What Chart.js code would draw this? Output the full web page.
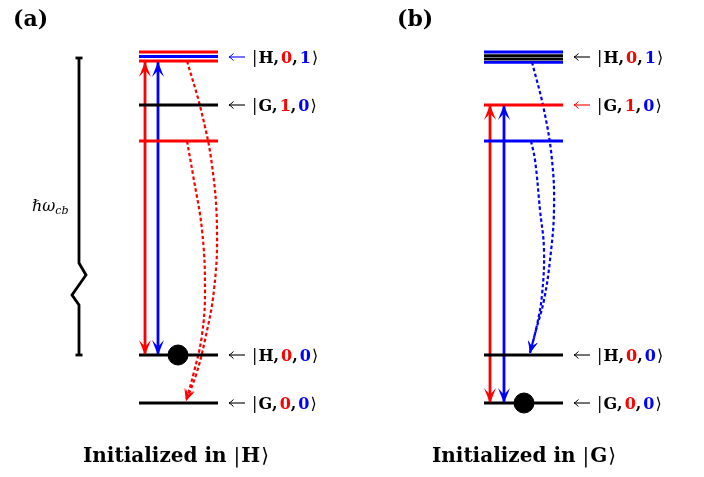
<!DOCTYPE html>
<html>
<head>
<meta charset="utf-8">
<script src="https://cdn.jsdelivr.net/npm/chart.js@4.4.0/dist/chart.umd.min.js"></script>
<style>
  html, body { margin: 0; padding: 0; background: #fff; }
  canvas { display: block; }
</style>
</head>
<body>
<canvas id="myChart" width="704" height="477"></canvas>
<script>
const RED = "#ff0000";
const BLUE = "#0000ff";
const BLACK = "#000000";

// energy levels (vertical position on the diagram) for each panel
const levelsA = [52, 56.5, 61, 105, 141, 355, 403];
const levelsB = [52, 55.7, 59, 62.3, 105, 141, 355, 403];
const levelColorsA = [RED, BLUE, RED, BLACK, RED, BLACK, BLACK];
const levelColorsB = [BLUE, BLACK, BLACK, BLUE, RED, BLUE, BLACK, BLACK];
const spanA = [139, 218];
const spanB = [484, 563];

// pump arrows: [x, top, bottom]
const pumpA = [[145, 62, 355], [158, 62, 355]];
const pumpB = [[490, 105, 403], [504, 105, 403]];
const pumpColors = [RED, BLUE];

// dashed decay paths
const decayA1 = [[187, 61], [201, 110], [212, 165], [217, 230], [214, 290], [205, 340], [196, 375], [186, 401]];
const decayA2 = [[187, 141], [193, 175], [202, 230], [205, 290], [202, 335], [194, 372], [186, 401]];
const decayB1 = [[532, 62], [544, 110], [552, 160], [554, 210], [550, 260], [544, 300], [536, 330], [530, 353]];
const decayB2 = [[531, 141], [535, 160], [540, 210], [544, 250], [542, 295], [537, 325], [530, 353]];

// occupied state
const dots = [[178, 355], [524, 403]];

// hbar omega_cb bracket
const bracket = [[79, 58], [79, 263], [86, 275], [72, 295], [79, 305], [79, 355]];

// state labels
const labelY = [57, 105, 355, 403];
const labelStates = [["H", "0", "1"], ["G", "1", "0"], ["H", "0", "0"], ["G", "0", "0"]];
const labelArrowColorsA = [BLUE, BLACK, BLACK, BLACK];
const labelArrowColorsB = [BLACK, RED, BLACK, BLACK];

const pts = arr => arr.map(p => ({ x: p[0], y: p[1] }));

function seg(points, color, width, extra) {
  return Object.assign({
    data: points,
    showLine: true,
    borderColor: color,
    backgroundColor: color,
    borderWidth: width,
    pointRadius: 0,
    pointHoverRadius: 0,
    fill: false,
    clip: false,
    tension: 0
  }, extra || {});
}

const datasets = [];

levelsA.forEach((y, i) => {
  datasets.push(seg(pts([[spanA[0], y], [spanA[1], y]]), levelColorsA[i], 2.8));
});
levelsB.forEach((y, i) => {
  datasets.push(seg(pts([[spanB[0], y], [spanB[1], y]]), levelColorsB[i], 2.8));
});

[pumpA, pumpB].forEach(pump => {
  pump.forEach((p, i) => {
    datasets.push(seg(pts([[p[0], p[1]], [p[0], p[2]]]), pumpColors[i], 2.8,
      { heads: "both", headLen: 15, headW: 6 }));
  });
});

[[decayA1, RED], [decayA2, RED], [decayB1, BLUE], [decayB2, BLUE]].forEach(d => {
  datasets.push(seg(pts(d[0]), d[1], 2.2, {
    tension: 0.4, borderDash: [3.5, 2.5], heads: "end", headLen: 12, headW: 5
  }));
});

datasets.push(seg(pts(bracket), BLACK, 2.8, { borderJoinStyle: "miter" }));
datasets.push(seg(pts([[75.5, 58], [82.5, 58]]), BLACK, 2.8));
datasets.push(seg(pts([[75.5, 355], [82.5, 355]]), BLACK, 2.8));

labelY.forEach((y, i) => {
  datasets.push(seg(pts([[245, y], [229, y]]), labelArrowColorsA[i], 1.1, { heads: "hook" }));
  datasets.push(seg(pts([[590, y], [574, y]]), labelArrowColorsB[i], 1.1, { heads: "hook" }));
});

datasets.push({
  data: pts(dots),
  showLine: false,
  clip: false,
  pointRadius: 10,
  pointHoverRadius: 10,
  pointBackgroundColor: BLACK,
  pointBorderColor: BLACK
});

function drawHead(ctx, tip, from, len, w, color) {
  const dx = tip.x - from.x, dy = tip.y - from.y;
  const d = Math.hypot(dx, dy) || 1;
  const ux = dx / d, uy = dy / d, nx = -uy, ny = ux;
  ctx.save();
  ctx.fillStyle = color;
  ctx.beginPath();
  ctx.moveTo(tip.x, tip.y);
  ctx.lineTo(tip.x - ux * len + nx * w, tip.y - uy * len + ny * w);
  ctx.lineTo(tip.x - ux * len * 0.55, tip.y - uy * len * 0.55);
  ctx.lineTo(tip.x - ux * len - nx * w, tip.y - uy * len - ny * w);
  ctx.closePath();
  ctx.fill();
  ctx.restore();
}

function drawHook(ctx, tip, from, color) {
  const dir = tip.x < from.x ? 1 : -1;
  ctx.save();
  ctx.strokeStyle = color;
  ctx.lineWidth = 1;
  ctx.beginPath();
  ctx.moveTo(tip.x + dir * 4.5, tip.y - 3.5);
  ctx.quadraticCurveTo(tip.x + dir * 1.5, tip.y - 0.5, tip.x, tip.y);
  ctx.quadraticCurveTo(tip.x + dir * 1.5, tip.y + 0.5, tip.x + dir * 4.5, tip.y + 3.5);
  ctx.stroke();
  ctx.restore();
}

const arrowHeads = {
  id: "arrowHeads",
  afterDatasetsDraw(chart) {
    const ctx = chart.ctx;
    chart.data.datasets.forEach((ds, i) => {
      if (!ds.heads) return;
      const el = chart.getDatasetMeta(i).data;
      const n = el.length;
      const last = el[n - 1], first = el[0];
      if (ds.heads === "hook") {
        drawHook(ctx, last, first, ds.borderColor);
        return;
      }
      const prev = ds.tension > 0 && last.cp1x !== undefined ? { x: last.cp1x, y: last.cp1y } : el[n - 2];
      drawHead(ctx, last, prev, ds.headLen, ds.headW, ds.borderColor);
      if (ds.heads === "both") {
        drawHead(ctx, first, el[1], ds.headLen, ds.headW, ds.borderColor);
      }
    });
  }
};

const SERIF = '"DejaVu Serif", serif';

function drawPieces(ctx, x, y, pieces, align) {
  let total = 0;
  pieces.forEach(p => { ctx.font = p[2]; total += ctx.measureText(p[0]).width + (p[3] || 0); });
  let cx = align === "center" ? x - total / 2 : x;
  pieces.forEach(p => {
    ctx.font = p[2];
    ctx.fillStyle = p[1];
    ctx.fillText(p[0], cx, y);
    cx += ctx.measureText(p[0]).width + (p[3] || 0);
  });
}

const texts = {
  id: "texts",
  afterDraw(chart) {
    const ctx = chart.ctx;
    const xs = chart.scales.x, ys = chart.scales.y;
    ctx.save();
    ctx.textBaseline = "alphabetic";
    ctx.textAlign = "left";
    const B = "bold 16px " + SERIF, N = "16px " + SERIF;
    const stateColors = [BLACK, RED, BLUE];
    [[252, 0], [597, 1]].forEach(col => {
      labelY.forEach((y, i) => {
        const s = labelStates[i];
        drawPieces(ctx, xs.getPixelForValue(col[0]), ys.getPixelForValue(y) + 6, [
          ["|", BLACK, N, 1],
          [s[0], stateColors[0], B],
          [",", BLACK, B, 2],
          [s[1], stateColors[1], B],
          [",", BLACK, B, 2],
          [s[2], stateColors[2], B, 1],
          ["\u27E9", BLACK, N]
        ]);
      });
    });
    ctx.font = "bold 22px " + SERIF;
    ctx.fillStyle = BLACK;
    ctx.fillText("(a)", xs.getPixelForValue(13), ys.getPixelForValue(26));
    ctx.fillText("(b)", xs.getPixelForValue(397), ys.getPixelForValue(26));

    const CB = "bold 20px " + SERIF, CN = "20px " + SERIF;
    drawPieces(ctx, xs.getPixelForValue(176), ys.getPixelForValue(462), [
      ["Initialized in ", BLACK, CB], ["|", BLACK, CN, 1], ["H", BLACK, CB, 1], ["\u27E9", BLACK, CN]
    ], "center");
    drawPieces(ctx, xs.getPixelForValue(524), ys.getPixelForValue(462), [
      ["Initialized in ", BLACK, CB], ["|", BLACK, CN, 1], ["G", BLACK, CB, 1], ["\u27E9", BLACK, CN]
    ], "center");

    drawPieces(ctx, xs.getPixelForValue(32), ys.getPixelForValue(211), [
      ["\u210F\u03C9", BLACK, "italic 16px " + SERIF]
    ]);
    ctx.font = "italic 16px " + SERIF;
    const w = ctx.measureText("\u210F\u03C9").width;
    ctx.font = "italic 11px " + SERIF;
    ctx.fillText("cb", xs.getPixelForValue(32) + w, ys.getPixelForValue(214));
    ctx.restore();
  }
};

new Chart(document.getElementById("myChart"), {
  type: "scatter",
  data: { datasets: datasets },
  options: {
    responsive: false,
    animation: false,
    devicePixelRatio: 1,
    layout: { padding: 0, autoPadding: false },
    scales: {
      x: { type: "linear", min: 0, max: 704, display: false },
      y: { type: "linear", min: 0, max: 477, reverse: true, display: false }
    },
    plugins: { legend: { display: false }, tooltip: { enabled: false } },
    events: []
  },
  plugins: [arrowHeads, texts]
});
</script>
</body>
</html>
